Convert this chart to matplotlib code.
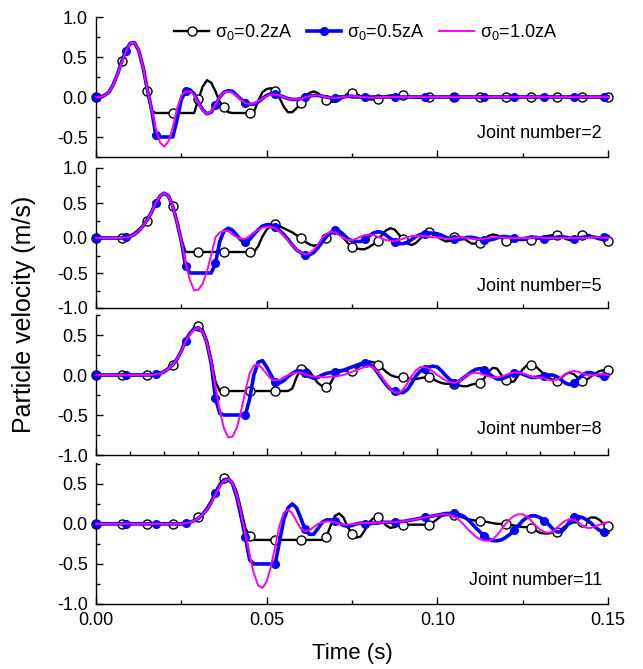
import numpy as np
import matplotlib
matplotlib.use("Agg")
import matplotlib.pyplot as plt
from matplotlib.ticker import MultipleLocator

plt.rcParams['font.family'] = ['Liberation Sans', 'DejaVu Sans']
plt.rcParams['mathtext.fontset'] = 'custom'
plt.rcParams['mathtext.rm'] = 'Liberation Sans'
plt.rcParams['mathtext.it'] = 'Liberation Sans:italic'

# time axis (s), sampled every 1.25 ms
t = np.linspace(0.0, 0.15, 121)

labels = [r'σ$_0$=0.2zA', r'σ$_0$=0.5zA', r'σ$_0$=1.0zA']
joints = [2, 5, 8, 11]

# ---- Joint number = 2 ----
j2_s02 = [0.00, 0.00, 0.02, 0.06, 0.15, 0.28, 0.45, 0.58, 0.67, 0.68,
          0.58, 0.38, 0.08, -0.17, -0.20, -0.20, -0.20, -0.20, -0.20, -0.20,
          -0.20, -0.20, -0.20, -0.20, -0.03, 0.13, 0.21, 0.18, 0.07, -0.06,
          -0.13, -0.19, -0.20, -0.20, -0.20, -0.20, -0.20, -0.19, -0.05, 0.06,
          0.10, 0.11, 0.07, -0.01, -0.12, -0.19, -0.19, -0.14, -0.08, 0.00,
          0.05, 0.07, 0.05, 0.00, -0.04, -0.06, -0.06, -0.04, 0.00, 0.04,
          0.05, 0.04, 0.01, -0.02, -0.03, -0.03, -0.03, -0.01, 0.01, 0.02,
          0.02, 0.02, 0.02, 0.01, 0.00, -0.01, -0.01, 0.00, 0.00, 0.00,
          0.00, 0.00, 0.00, 0.00, 0.00, 0.00, 0.00, 0.00, 0.00, 0.00,
          0.00, 0.00, 0.00, 0.00, 0.00, 0.00, 0.00, 0.00, 0.00, 0.00,
          0.00, 0.00, 0.00, 0.00, 0.00, 0.00, 0.00, 0.00, 0.00, 0.00,
          0.00, 0.00, 0.00, 0.00, 0.00, 0.00, 0.00, 0.00, 0.00, 0.00,
          0.00]
j2_s05 = [0.00, 0.00, 0.02, 0.06, 0.15, 0.28, 0.44, 0.58, 0.67, 0.68,
          0.58, 0.38, 0.10, -0.15, -0.47, -0.50, -0.50, -0.50, -0.50, -0.28,
          -0.03, 0.07, 0.09, 0.04, -0.07, -0.16, -0.21, -0.19, -0.10, 0.00,
          0.06, 0.08, 0.07, 0.02, -0.03, -0.07, -0.09, -0.09, -0.06, -0.02,
          0.02, 0.04, 0.04, 0.02, 0.00, -0.02, -0.03, -0.03, -0.02, 0.00,
          0.01, 0.02, 0.02, 0.01, 0.00, -0.01, -0.01, 0.00, 0.00, 0.01,
          0.01, 0.00, 0.00, 0.00, 0.00, 0.00, 0.00, 0.00, 0.00, 0.00,
          0.00, 0.00, 0.00, 0.00, 0.00, 0.00, 0.00, 0.00, 0.00, 0.00,
          0.00, 0.00, 0.00, 0.00, 0.00, 0.00, 0.00, 0.00, 0.00, 0.00,
          0.00, 0.00, 0.00, 0.00, 0.00, 0.00, 0.00, 0.00, 0.00, 0.00,
          0.00, 0.00, 0.00, 0.00, 0.00, 0.00, 0.00, 0.00, 0.00, 0.00,
          0.00, 0.00, 0.00, 0.00, 0.00, 0.00, 0.00, 0.00, 0.00, 0.00,
          0.00]
j2_s10 = [0.00, 0.00, 0.02, 0.06, 0.15, 0.28, 0.43, 0.57, 0.67, 0.68,
          0.58, 0.38, 0.10, -0.15, -0.40, -0.57, -0.62, -0.55, -0.38, -0.14,
          0.02, 0.07, 0.07, 0.02, -0.08, -0.17, -0.21, -0.18, -0.09, 0.00,
          0.06, 0.07, 0.05, 0.01, -0.04, -0.08, -0.09, -0.08, -0.05, -0.02,
          0.01, 0.03, 0.03, 0.02, 0.00, -0.02, -0.03, -0.03, -0.02, 0.00,
          0.01, 0.02, 0.02, 0.01, 0.00, -0.01, -0.01, -0.01, 0.00, 0.01,
          0.01, 0.01, 0.00, 0.00, -0.01, -0.01, 0.00, 0.00, 0.00, 0.00,
          0.00, 0.00, 0.00, 0.00, 0.00, 0.00, 0.00, 0.00, 0.00, 0.00,
          0.00, 0.00, 0.00, 0.00, 0.00, 0.00, 0.00, 0.00, 0.00, 0.00,
          0.00, 0.00, 0.00, 0.00, 0.00, 0.00, 0.00, 0.00, 0.00, 0.00,
          0.00, 0.00, 0.00, 0.00, 0.00, 0.00, 0.00, 0.00, 0.00, 0.00,
          0.00, 0.00, 0.00, 0.00, 0.00, 0.00, 0.00, 0.00, 0.00, 0.00,
          0.00]

# ---- Joint number = 5 ----
j5_s02 = [0.00, 0.00, 0.00, 0.00, 0.00, 0.00, 0.00, 0.01, 0.03, 0.07,
          0.12, 0.18, 0.25, 0.36, 0.48, 0.59, 0.64, 0.61, 0.46, 0.24,
          -0.02, -0.20, -0.20, -0.20, -0.20, -0.20, -0.20, -0.20, -0.20, -0.20,
          -0.20, -0.20, -0.20, -0.20, -0.20, -0.20, -0.20, -0.20, -0.12, 0.02,
          0.12, 0.17, 0.20, 0.17, 0.14, 0.11, 0.08, 0.04, 0.00, -0.05,
          -0.09, -0.11, -0.10, -0.06, 0.00, 0.06, 0.09, 0.06, 0.00, -0.07,
          -0.13, -0.15, -0.16, -0.16, -0.13, -0.09, -0.04, 0.04, 0.11, 0.14,
          0.12, 0.05, -0.02, -0.08, -0.10, -0.07, -0.01, 0.05, 0.08, 0.06,
          0.02, -0.02, -0.05, -0.04, 0.01, 0.02, 0.00, -0.04, -0.08, -0.08,
          -0.07, -0.02, 0.03, 0.05, 0.04, 0.00, -0.04, -0.05, -0.04, -0.03,
          -0.03, -0.02, -0.03, -0.02, 0.00, 0.02, 0.03, 0.04, 0.04, 0.02,
          -0.01, -0.03, -0.02, 0.01, 0.05, 0.05, 0.03, 0.00, -0.02, -0.03,
          -0.04]
j5_s05 = [0.00, 0.00, 0.00, 0.00, 0.00, 0.00, 0.00, 0.01, 0.02, 0.05,
          0.10, 0.17, 0.26, 0.37, 0.50, 0.60, 0.64, 0.60, 0.45, 0.22,
          -0.05, -0.40, -0.50, -0.50, -0.50, -0.50, -0.50, -0.50, -0.36, -0.05,
          0.10, 0.14, 0.11, 0.04, -0.03, -0.05, -0.02, 0.05, 0.12, 0.17,
          0.19, 0.19, 0.16, 0.11, 0.05, -0.02, -0.10, -0.17, -0.21, -0.24,
          -0.24, -0.21, -0.14, -0.06, 0.02, 0.08, 0.11, 0.10, 0.05, -0.01,
          -0.04, -0.05, -0.05, -0.02, 0.03, 0.07, 0.09, 0.08, 0.04, -0.01,
          -0.05, -0.08, -0.08, -0.06, -0.02, 0.02, 0.05, 0.06, 0.07, 0.07,
          0.06, 0.04, 0.01, -0.01, -0.02, -0.02, -0.01, 0.01, 0.01, 0.00,
          -0.02, -0.03, -0.03, -0.02, 0.00, 0.02, 0.02, 0.01, 0.00, -0.01,
          -0.01, 0.00, 0.01, 0.01, 0.00, -0.01, -0.01, 0.00, 0.01, 0.02,
          0.01, 0.00, -0.01, 0.00, 0.01, 0.02, 0.02, 0.01, 0.00, 0.01,
          0.02]
j5_s10 = [0.00, 0.00, 0.00, 0.00, 0.00, 0.00, 0.00, 0.01, 0.02, 0.05,
          0.10, 0.17, 0.26, 0.37, 0.50, 0.60, 0.64, 0.60, 0.45, 0.22,
          -0.05, -0.36, -0.60, -0.75, -0.74, -0.65, -0.48, -0.24, 0.01, 0.08,
          0.10, 0.10, 0.05, 0.01, -0.01, -0.01, 0.03, 0.08, 0.12, 0.15,
          0.16, 0.16, 0.14, 0.09, 0.03, -0.04, -0.11, -0.17, -0.21, -0.23,
          -0.22, -0.17, -0.09, 0.00, 0.06, 0.09, 0.08, 0.04, 0.00, -0.03,
          -0.03, -0.01, 0.02, 0.04, 0.05, 0.04, 0.02, -0.01, -0.03, -0.04,
          -0.04, -0.03, -0.01, 0.01, 0.03, 0.03, 0.03, 0.03, 0.02, 0.01,
          0.01, 0.00, -0.01, -0.01, 0.00, 0.01, 0.01, 0.00, -0.01, -0.02,
          -0.02, -0.01, 0.00, 0.01, 0.01, 0.01, 0.00, 0.00, 0.00, 0.00,
          0.00, 0.00, 0.00, 0.01, 0.01, 0.00, 0.00, 0.00, 0.00, 0.00,
          0.00, 0.00, 0.00, 0.00, 0.00, 0.00, 0.01, 0.01, 0.01, 0.00,
          0.00]

# ---- Joint number = 8 ----
j8_s02 = [0.00, 0.00, 0.00, 0.00, 0.00, 0.00, 0.00, 0.00, 0.00, 0.00,
          0.00, 0.00, 0.00, 0.00, 0.01, 0.02, 0.05, 0.09, 0.13, 0.20,
          0.30, 0.42, 0.52, 0.59, 0.61, 0.57, 0.43, 0.20, -0.08, -0.20,
          -0.20, -0.20, -0.20, -0.20, -0.20, -0.20, -0.20, -0.20, -0.20, -0.20,
          -0.20, -0.20, -0.20, -0.20, -0.20, -0.20, -0.17, -0.03, 0.08, 0.09,
          0.05, -0.03, -0.10, -0.14, -0.15, -0.10, 0.00, 0.04, 0.05, 0.05,
          0.05, 0.08, 0.12, 0.15, 0.17, 0.16, 0.13, 0.09, 0.04, 0.00,
          -0.02, -0.03, -0.03, -0.04, -0.05, -0.05, -0.04, -0.03, -0.03, -0.05,
          -0.08, -0.10, -0.11, -0.11, -0.11, -0.13, -0.14, -0.14, -0.12, -0.11,
          -0.10, -0.04, 0.04, 0.09, 0.08, 0.00, -0.06, -0.09, -0.08, 0.00,
          0.07, 0.12, 0.13, 0.11, 0.06, 0.01, -0.03, -0.06, -0.07, -0.04,
          0.01, 0.03, 0.01, -0.04, -0.07, -0.06, -0.02, 0.02, 0.05, 0.06,
          0.06]
j8_s05 = [0.00, 0.00, 0.00, 0.00, 0.00, 0.00, 0.00, 0.00, 0.00, 0.00,
          0.00, 0.00, 0.00, 0.00, 0.01, 0.02, 0.04, 0.08, 0.13, 0.20,
          0.30, 0.43, 0.52, 0.58, 0.59, 0.54, 0.40, 0.14, -0.29, -0.48,
          -0.50, -0.50, -0.50, -0.50, -0.50, -0.50, -0.30, 0.00, 0.16, 0.18,
          0.10, 0.00, -0.09, -0.10, -0.07, -0.02, 0.02, 0.05, 0.05, 0.03,
          -0.02, -0.04, -0.03, 0.00, 0.02, 0.03, 0.04, 0.05, 0.06, 0.08,
          0.10, 0.12, 0.14, 0.15, 0.14, 0.10, 0.03, -0.05, -0.12, -0.18,
          -0.20, -0.22, -0.22, -0.18, -0.10, -0.01, 0.05, 0.08, 0.10, 0.11,
          0.10, 0.05, -0.01, -0.06, -0.10, -0.08, -0.04, 0.00, 0.04, 0.07,
          0.08, 0.06, 0.02, -0.02, -0.05, -0.05, -0.03, 0.00, 0.03, 0.03,
          0.01, -0.01, -0.03, -0.03, -0.02, -0.01, 0.00, 0.00, -0.02, -0.06,
          -0.10, -0.12, -0.10, -0.05, 0.00, 0.03, 0.03, 0.01, -0.01, -0.01,
          0.00]
j8_s10 = [0.00, 0.00, 0.00, 0.00, 0.00, 0.00, 0.00, 0.00, 0.00, 0.00,
          0.00, 0.00, 0.00, 0.00, 0.01, 0.02, 0.04, 0.08, 0.13, 0.20,
          0.30, 0.42, 0.51, 0.57, 0.59, 0.54, 0.40, 0.16, -0.15, -0.45,
          -0.67, -0.78, -0.77, -0.66, -0.45, -0.20, 0.02, 0.12, 0.13, 0.08,
          0.01, -0.05, -0.07, -0.06, -0.03, 0.00, 0.02, 0.03, 0.03, 0.01,
          -0.01, -0.02, -0.02, -0.03, -0.03, -0.02, -0.02, -0.01, 0.00, 0.02,
          0.04, 0.06, 0.08, 0.10, 0.11, 0.09, 0.04, -0.03, -0.11, -0.18,
          -0.22, -0.22, -0.18, -0.10, -0.01, 0.06, 0.10, 0.10, 0.08, 0.04,
          0.00, -0.04, -0.07, -0.09, -0.10, -0.08, -0.04, 0.00, 0.02, 0.03,
          0.02, 0.00, -0.02, -0.03, -0.03, -0.02, 0.00, 0.02, 0.03, 0.03,
          0.02, 0.00, -0.02, -0.03, -0.03, -0.04, -0.06, -0.07, -0.06, -0.03,
          0.01, 0.04, 0.05, 0.04, 0.02, 0.00, -0.01, 0.00, 0.01, 0.01,
          0.00]

# ---- Joint number = 11 ----
j11_s02 = [0.00, 0.00, 0.00, 0.00, 0.00, 0.00, 0.00, 0.00, 0.00, 0.00,
           0.00, 0.00, 0.00, 0.00, 0.00, 0.00, 0.00, 0.00, 0.00, 0.00,
           0.00, 0.01, 0.02, 0.04, 0.08, 0.13, 0.20, 0.29, 0.40, 0.50,
           0.57, 0.57, 0.52, 0.40, 0.18, -0.05, -0.15, -0.20, -0.20, -0.20,
           -0.20, -0.20, -0.20, -0.20, -0.20, -0.20, -0.20, -0.20, -0.20, -0.20,
           -0.20, -0.20, -0.20, -0.20, -0.16, -0.02, 0.10, 0.13, 0.08, -0.04,
           -0.12, -0.17, -0.16, -0.08, 0.02, 0.07, 0.08, 0.04, -0.02, -0.05,
           -0.04, -0.02, -0.02, -0.01, -0.01, -0.01, -0.01, -0.01, -0.02, 0.02,
           0.06, 0.10, 0.11, 0.11, 0.11, 0.10, 0.08, 0.06, 0.05, 0.04,
           0.04, 0.03, 0.02, 0.01, 0.00, 0.00, 0.00, -0.01, -0.02, -0.03,
           -0.04, -0.04, -0.05, -0.08, -0.11, -0.12, -0.12, -0.11, -0.10, -0.07,
           -0.03, 0.00, 0.02, 0.02, 0.02, 0.05, 0.08, 0.08, 0.05, 0.00,
           -0.03]
j11_s05 = [0.00, 0.00, 0.00, 0.00, 0.00, 0.00, 0.00, 0.00, 0.00, 0.00,
           0.00, 0.00, 0.00, 0.00, 0.00, 0.00, 0.00, 0.00, 0.00, 0.00,
           0.00, 0.01, 0.02, 0.04, 0.07, 0.12, 0.18, 0.27, 0.39, 0.48,
           0.55, 0.56, 0.50, 0.33, 0.09, -0.16, -0.45, -0.50, -0.50, -0.50,
           -0.50, -0.50, -0.50, -0.22, 0.05, 0.20, 0.25, 0.20, 0.07, -0.07,
           -0.13, -0.13, -0.06, 0.02, 0.05, 0.05, 0.04, 0.01, -0.02, -0.03,
           -0.02, 0.00, 0.01, 0.00, 0.00, 0.01, 0.01, 0.02, 0.02, 0.02,
           0.02, 0.03, 0.03, 0.04, 0.05, 0.06, 0.07, 0.08, 0.09, 0.10,
           0.11, 0.12, 0.13, 0.13, 0.13, 0.12, 0.10, 0.06, 0.01, -0.05,
           -0.10, -0.15, -0.19, -0.21, -0.21, -0.20, -0.17, -0.13, -0.08, -0.02,
           0.04, 0.08, 0.10, 0.10, 0.08, 0.04, 0.00, -0.06, -0.10, -0.10,
           -0.05, 0.03, 0.08, 0.09, 0.08, 0.05, 0.01, -0.04, -0.08, -0.10,
           -0.10]
j11_s10 = [0.00, 0.00, 0.00, 0.00, 0.00, 0.00, 0.00, 0.00, 0.00, 0.00,
           0.00, 0.00, 0.00, 0.00, 0.00, 0.00, 0.00, 0.00, 0.00, 0.00,
           0.00, 0.01, 0.02, 0.04, 0.07, 0.12, 0.18, 0.26, 0.37, 0.47,
           0.54, 0.56, 0.51, 0.36, 0.13, -0.13, -0.40, -0.62, -0.77, -0.80,
           -0.72, -0.53, -0.28, -0.02, 0.14, 0.18, 0.13, 0.03, -0.06, -0.09,
           -0.08, -0.04, 0.00, 0.02, 0.03, 0.03, 0.02, 0.00, -0.01, -0.01,
           0.00, 0.00, 0.01, 0.01, 0.01, 0.01, 0.02, 0.02, 0.02, 0.02,
           0.02, 0.03, 0.03, 0.04, 0.05, 0.06, 0.07, 0.08, 0.09, 0.10,
           0.11, 0.12, 0.12, 0.11, 0.09, 0.05, 0.00, -0.06, -0.11, -0.16,
           -0.19, -0.21, -0.21, -0.19, -0.14, -0.07, 0.00, 0.06, 0.10, 0.12,
           0.12, 0.09, 0.04, -0.02, -0.07, -0.10, -0.11, -0.10, -0.05, 0.00,
           0.04, 0.06, 0.05, 0.02, -0.02, -0.05, -0.05, -0.03, -0.01, 0.01,
           0.02]

series = [(j2_s02, j2_s05, j2_s10), (j5_s02, j5_s05, j5_s10),
          (j8_s02, j8_s05, j8_s10), (j11_s02, j11_s05, j11_s10)]

W, H = 643, 669
fig = plt.figure(figsize=(W / 100, H / 100), dpi=100)

# panel boxes in pixels: (top, bottom) and y limits
boxes = [(17, 157), (168, 308), (315, 455), (463, 604)]
ylims = [(-0.75, 1.0), (-1.0, 1.0), (-1.0, 0.75), (-1.0, 0.76)]
text_y = [0.107, 0.093, 0.119, 0.104]
x0, x1 = 96, 608

axes = []
for i, (top, bot) in enumerate(boxes):
    ax = fig.add_axes([x0 / W, (H - bot) / H, (x1 - x0) / W, (bot - top) / H])
    axes.append(ax)
    s02, s05, s10 = series[i]
    ax.plot(t, s02, color='black', lw=1.7, marker='o', ms=6.5, mfc='white',
            mec='black', mew=1.0, markevery=6, clip_on=False, zorder=3,
            label=labels[0])
    ax.plot(t, s05, color='#0000ff', lw=2.6, marker='o', ms=5.5, mfc='#0000ff',
            mec='#0000ff', markevery=7, clip_on=False, zorder=4,
            label=labels[1])
    ax.plot(t, s10, color='#ff00ff', lw=1.4, clip_on=False, zorder=5,
            label=labels[2])

    ax.set_xlim(0, 0.15)
    ax.set_ylim(*ylims[i])
    ax.xaxis.set_major_locator(MultipleLocator(0.05))
    ax.xaxis.set_minor_locator(MultipleLocator(0.01 if i == 2 else 0.025))
    ax.yaxis.set_major_locator(MultipleLocator(0.5))
    ax.yaxis.set_minor_locator(MultipleLocator(0.25))
    ax.tick_params(which='both', direction='in', labelsize=13, width=1.0,
                   top=False, right=False)
    ax.tick_params(which='major', length=5)
    ax.tick_params(which='minor', length=3)
    ax.tick_params(axis='y', pad=6)
    ax.tick_params(axis='x', pad=6)
    ax.yaxis.set_major_formatter(matplotlib.ticker.FormatStrFormatter('%.1f'))
    ax.xaxis.set_major_formatter(matplotlib.ticker.FormatStrFormatter('%.2f'))
    if i < 3:
        ax.tick_params(axis='x', labelbottom=False)
    for side in ['top', 'right']:
        ax.spines[side].set_visible(False)
    for side in ['left', 'bottom']:
        ax.spines[side].set_linewidth(1.0)
    ax.patch.set_alpha(0)
    ax.text(0.988, text_y[i], 'Joint number=%d' % joints[i],
            transform=ax.transAxes, ha='right', va='bottom', fontsize=13)

axes[0].legend(loc='center', bbox_to_anchor=(0.527, 0.893), ncol=3,
               frameon=False, fontsize=13, handlelength=1.9,
               handletextpad=0.35, columnspacing=0.8, borderpad=0)

fig.text(24 / W, 1 - 314 / H, 'Particle velocity (m/s)', rotation=90,
         ha='center', va='center', fontsize=18)
fig.text(352 / W, 1 - 654 / H, 'Time (s)', ha='center', va='center',
         fontsize=16)

fig.savefig('out.png', dpi=100)
